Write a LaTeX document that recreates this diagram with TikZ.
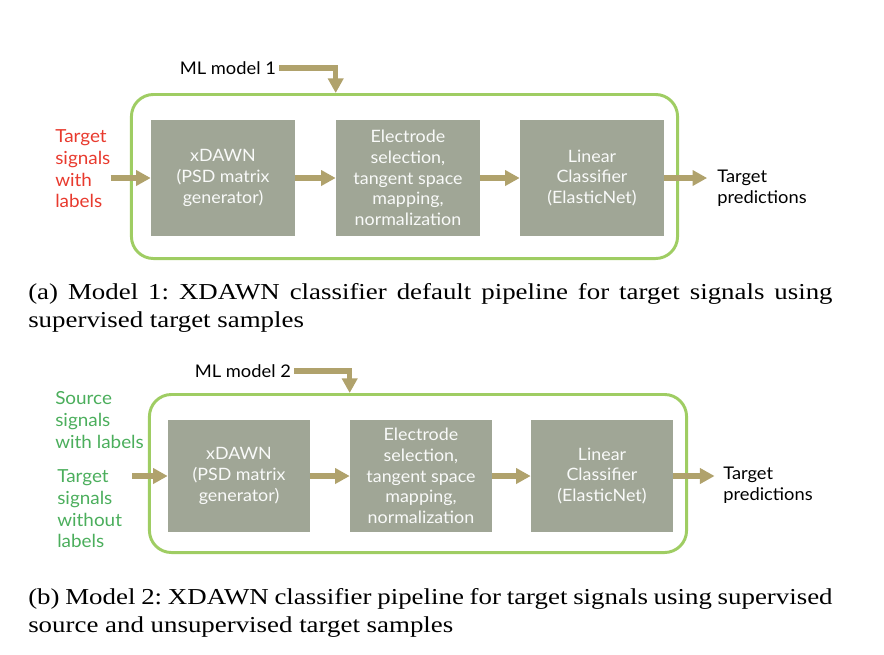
\documentclass[tikz,border=0pt]{standalone}
\usepackage{fontspec}
\setmainfont[FakeStretch=1.05]{Lato}
\newfontfamily\capfont[FakeStretch=1.18]{Liberation Serif}
\usetikzlibrary{arrows.meta}

\definecolor{stagegray}{HTML}{A0A696}
\definecolor{framegreen}{HTML}{9FCD63}
\definecolor{flowtan}{HTML}{B0A26C}
\definecolor{labelred}{HTML}{E83A2E}
\definecolor{labelgreen}{HTML}{4BAE5C}

\begin{document}
\begin{tikzpicture}[x=0.025cm, y=-0.025cm,
          stage/.style = {rectangle, fill=stagegray, text=white!94!stagegray, minimum width=3.6cm, minimum height=2.9cm, inner sep=0pt, align=center, font=\fontsize{12.1}{14.7}\selectfont},
          frame/.style = {rectangle, draw=framegreen, line width=2.1pt, rounded corners=0.55cm},
          flow/.style = {draw=flowtan, line width=3.8pt, -{Triangle[width=10.7pt,length=10.4pt]}},
          side/.style = {inner sep=0pt, align=left, font=\fontsize{12.8}{15.6}\selectfont},
          outlabel/.style = {inner sep=0pt, align=left, font=\fontsize{12.4}{14.7}\selectfont},
          caption/.style = {inner sep=0pt, align=left, font=\capfont\fontsize{16.2}{19.9}\selectfont\frenchspacing}
        ]
        \useasboundingbox (0,0) rectangle (884,654);

        \node[frame, minimum width=13.65cm, minimum height=4.1cm] (frameA) at (404.5,176.5) {};
        \node[stage] (xdawnA) at (223,178) {xDAWN\\(PSD matrix\\generator)};
        \node[stage] (electrodeA) at (408,178) {Electrode\\selection,\\tangent space\\mapping,\\normalization};
        \node[stage] (linearA) at (592,178) {Linear\\Classifier\\(ElasticNet)};
        \node[side, text=labelred, anchor=north west] (inputA) at (55,129) {Target\\signals\\with\\labels};
        \node[outlabel, inner sep=2pt, anchor=east] (mlA) at (279,68) {ML model 1};
        \node[outlabel, anchor=north west] (predA) at (717,170) {Target\\predictions};

        \draw[flow] (inputA.east |- xdawnA.west) -- (xdawnA.west);
        \draw[flow] (xdawnA) -- (electrodeA);
        \draw[flow] (electrodeA) -- (linearA);
        \draw[flow, shorten >=7pt] (linearA.east) -- (predA.west |- linearA.east);
        \draw[flow] (mlA.east) -| (electrodeA.west |- frameA.north);

        \node[caption, anchor=north west] (captionA) at (28,283.5) {\makebox[572pt][s]{(a) Model 1: XDAWN classifier default pipeline for target signals using}\\supervised target samples};

        \node[frame, minimum width=13.425cm, minimum height=3.95cm] (frameB) at (418,473.5) {};
        \node[stage, minimum width=3.55cm, minimum height=2.78cm] (xdawnB) at (239,476) {xDAWN\\(PSD matrix\\generator)};
        \node[stage, minimum width=3.55cm, minimum height=2.78cm] (electrodeB) at (421,476) {Electrode\\selection,\\tangent space\\mapping,\\normalization};
        \node[stage, minimum width=3.55cm, minimum height=2.78cm] (linearB) at (602,476) {Linear\\Classifier\\(ElasticNet)};
        \node[side, text=labelgreen, anchor=north west] (sourceB) at (55,391) {Source\\signals\\with labels};
        \node[side, text=labelgreen, anchor=north west] (inputB) at (57,469) {Target\\signals\\without\\labels};
        \node[outlabel, inner sep=2pt, anchor=east] (mlB) at (294,371) {ML model 2};
        \node[outlabel, anchor=north west] (predB) at (723,467) {Target\\predictions};

        \draw[flow, shorten <=7pt] (inputB.east |- xdawnB.west) -- (xdawnB.west);
        \draw[flow] (xdawnB) -- (electrodeB);
        \draw[flow] (electrodeB) -- (linearB);
        \draw[flow, shorten >=6pt] (linearB.east) -- (predB.west |- linearB.east);
        \draw[flow] (mlB.east) -| (electrodeB.west |- frameB.north);

        \node[caption, anchor=north west] (captionB) at (28,588.5) {\makebox[572pt][s]{(b) Model 2: XDAWN classifier pipeline for target signals using supervised}\\source and unsupervised target samples};
      \end{tikzpicture}
\end{document}
